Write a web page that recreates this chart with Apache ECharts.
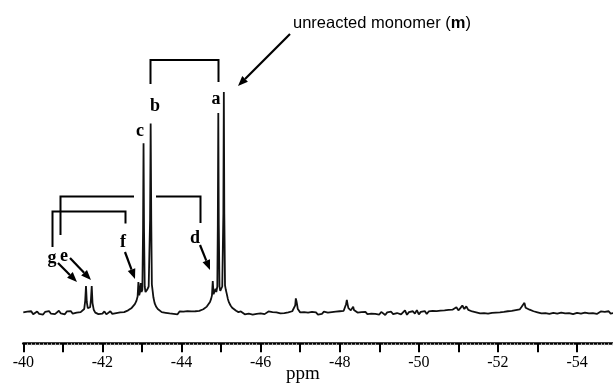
<!DOCTYPE html>
<html>
<head>
<meta charset="utf-8">
<script src="https://cdn.jsdelivr.net/npm/echarts@6/dist/echarts.min.js"></script>
<style>
  html, body { margin: 0; padding: 0; background: #fff; }
  #chart { width: 613px; height: 392px; }
</style>
</head>
<body>
<div id="chart"></div>
<script>
// [ppm, intensity], split by region (a peak = 100)
const baseLeft = [
  [-40.00, 0.3], [-40.05, -0.5], [-40.10, 0.6], [-40.15, -0.2], [-40.20, 0.8], [-40.25, -0.6],
  [-40.30, 0.1], [-40.35, 0.7], [-40.40, -0.4], [-40.45, 0.4], [-40.50, -0.7], [-40.55, 0.5],
  [-40.60, 0.0], [-40.65, 0.9], [-40.70, -0.3], [-40.75, 0.6], [-40.80, -0.5], [-40.85, 0.3],
  [-40.90, 1.0], [-40.95, -0.2], [-41.00, 0.5], [-41.05, -0.6], [-41.10, 0.7], [-41.15, 0.1],
  [-41.20, 0.9], [-41.25, -0.3], [-41.30, 0.6], [-41.35, 0.2], [-41.40, 1.1], [-41.45, 0.4]
];
const peaksGE = [
  [-41.50, 1.0], [-41.54, 1.8], [-41.565, 5.5], [-41.585, 12.2], [-41.605, 5.0], [-41.63, 2.2],
  [-41.66, 1.6], [-41.69, 2.6], [-41.71, 6.0], [-41.73, 12.2], [-41.75, 4.5], [-41.78, 1.5],
  [-41.82, 0.2]
];
const baseGF = [
  [-41.86, 0.6], [-41.90, -0.5], [-41.95, 0.4], [-42.00, -0.3], [-42.05, 0.7], [-42.10, -0.6],
  [-42.15, 0.2], [-42.20, 0.8], [-42.25, -0.4], [-42.30, 0.5], [-42.35, 0.0], [-42.40, 0.9],
  [-42.45, 0.3], [-42.50, 1.0], [-42.55, 0.4], [-42.60, 0.9], [-42.65, 1.2]
];
const peaksFCB = [
  [-42.70, 1.7], [-42.74, 2.3], [-42.78, 3.0], [-42.82, 4.0], [-42.86, 5.5], [-42.89, 7.5],
  [-42.91, 14.0], [-42.93, 8.0], [-42.95, 9.5], [-42.97, 13.5], [-42.99, 9.5], [-43.01, 10.5],
  [-43.028, 38], [-43.04, 76.8], [-43.052, 38], [-43.07, 12], [-43.09, 9.5], [-43.11, 9.0],
  [-43.13, 10.5], [-43.15, 9.8], [-43.17, 12], [-43.205, 42], [-43.22, 85.8], [-43.235, 42],
  [-43.25, 13], [-43.27, 10], [-43.29, 7], [-43.32, 4.5], [-43.36, 2.8], [-43.40, 1.8],
  [-43.45, 1.0], [-43.50, 0.4], [-43.55, 0.8]
];
const baseBD = [
  [-43.60, 0.1], [-43.65, 0.6], [-43.70, -0.2], [-43.75, 0.5], [-43.80, -0.4], [-43.85, 0.3],
  [-43.90, -0.6], [-43.95, 0.7], [-44.00, -0.2], [-44.05, 0.6], [-44.10, 0.1], [-44.15, 0.9],
  [-44.20, 0.2], [-44.25, 0.7], [-44.30, 0.1], [-44.35, 0.8], [-44.40, 0.5], [-44.45, 1.0],
  [-44.50, 1.2], [-44.55, 1.7]
];
const peaksDA = [
  [-44.60, 2.2], [-44.64, 2.9], [-44.68, 3.8], [-44.72, 5.0], [-44.75, 6.5], [-44.77, 8.0],
  [-44.79, 14.5], [-44.81, 8.5], [-44.84, 9.0], [-44.86, 11.0], [-44.88, 9.5], [-44.905, 12],
  [-44.918, 40], [-44.93, 90.5], [-44.942, 40], [-44.96, 12], [-44.98, 10], [-45.00, 9.5],
  [-45.03, 12], [-45.058, 45], [-45.07, 100], [-45.082, 45], [-45.10, 12.5], [-45.12, 10.5],
  [-45.14, 9.0], [-45.17, 6.5], [-45.20, 4.8], [-45.24, 3.4], [-45.28, 2.4], [-45.33, 1.6],
  [-45.38, 1.0], [-45.44, 0.4], [-45.50, 0.7]
];
const baseMid = [
  [-45.55, 0.2], [-45.60, -0.6], [-45.65, 0.3], [-45.70, -0.3], [-45.75, 0.5], [-45.80, -0.7],
  [-45.85, 0.1], [-45.90, -0.4], [-45.95, 0.4], [-46.00, -0.2], [-46.05, 0.6], [-46.10, -0.5],
  [-46.15, 0.2], [-46.20, 0.7], [-46.25, -0.1], [-46.30, 0.4], [-46.35, 0.9], [-46.40, 0.3],
  [-46.45, 0.6], [-46.50, -0.2], [-46.55, 0.5], [-46.60, 0.0], [-46.65, 0.7], [-46.70, 0.3],
  [-46.75, 0.9], [-46.80, 0.8],
  [-46.85, 1.4], [-46.875, 3.5], [-46.89, 6.6], [-46.905, 5.5], [-46.92, 4.0], [-46.94, 1.8],
  [-46.97, 0.9],
  [-47.00, 0.3], [-47.05, -0.5], [-47.10, 0.4], [-47.15, -0.3], [-47.20, 0.2], [-47.25, -0.6],
  [-47.30, 0.5], [-47.35, -0.2], [-47.40, 0.3], [-47.45, -0.7], [-47.50, 0.1], [-47.55, -0.4],
  [-47.60, 0.6], [-47.65, -0.3], [-47.70, 0.2], [-47.75, -0.5], [-47.80, 0.4], [-47.85, 0.0],
  [-47.90, 0.6], [-47.95, 0.3], [-48.00, 0.8], [-48.05, 0.6], [-48.10, 1.0],
  [-48.14, 1.8], [-48.16, 4.0], [-48.18, 5.9], [-48.20, 3.8], [-48.22, 2.2], [-48.25, 1.6],
  [-48.28, 1.2], [-48.31, 1.7], [-48.34, 2.9], [-48.36, 1.4], [-48.40, 0.5]
];
const baseRight = [
  [-48.45, 0.2], [-48.50, -0.6], [-48.55, 0.4], [-48.60, -0.2], [-48.65, 0.5], [-48.70, -0.5],
  [-48.75, 0.3], [-48.80, -0.3], [-48.85, 0.6], [-48.90, -0.4], [-48.95, 0.2], [-49.00, -0.7],
  [-49.05, 0.5], [-49.10, 1.4], [-49.15, -0.9], [-49.20, 0.3], [-49.25, -0.2], [-49.30, 0.6],
  [-49.35, -0.5], [-49.40, 0.4], [-49.45, 0.0], [-49.50, 0.7], [-49.55, -0.6], [-49.60, 0.3],
  [-49.65, 1.2], [-49.70, -0.8], [-49.75, 0.4], [-49.80, 0.1], [-49.85, 0.8], [-49.90, -0.3],
  [-49.95, 1.3], [-50.00, -0.6], [-50.05, 0.5], [-50.10, 0.2], [-50.15, 0.9], [-50.20, -0.4],
  [-50.25, 0.7], [-50.30, 0.1], [-50.35, 1.0], [-50.40, 0.3], [-50.45, 0.9], [-50.50, 0.2],
  [-50.55, 1.1], [-50.60, 0.4], [-50.65, 1.2], [-50.70, 0.5], [-50.75, 1.4], [-50.80, 0.6],
  [-50.85, 1.5], [-50.90, 1.0], [-50.95, 2.6], [-51.00, 1.2], [-51.05, 2.2], [-51.10, 3.4],
  [-51.15, 1.8], [-51.20, 3.0], [-51.25, 1.4], [-51.30, 1.8], [-51.35, 0.7], [-51.40, 1.0],
  [-51.45, 0.3], [-51.50, 0.6], [-51.55, -0.2], [-51.60, 0.4], [-51.65, 0.0], [-51.70, 0.6],
  [-51.75, -0.3], [-51.80, 0.5], [-51.85, 0.1], [-51.90, 0.8], [-51.95, 0.2], [-52.00, 0.7],
  [-52.05, 0.3], [-52.10, 1.1], [-52.15, 0.5], [-52.20, 1.2], [-52.25, 0.8], [-52.30, 1.5],
  [-52.35, 1.0], [-52.40, 1.8], [-52.45, 1.3], [-52.50, 2.2], [-52.55, 1.6], [-52.60, 2.8],
  [-52.64, 2.0], [-52.67, 4.6], [-52.70, 2.4], [-52.75, 3.0], [-52.80, 1.5], [-52.85, 1.8],
  [-52.90, 0.8], [-52.95, 1.1], [-53.00, 0.3], [-53.05, 0.8], [-53.10, -0.2], [-53.15, 0.5],
  [-53.20, 0.0], [-53.25, 0.7], [-53.30, -0.4], [-53.35, 0.4], [-53.40, 0.1], [-53.45, 0.8],
  [-53.50, -0.3], [-53.55, 0.5], [-53.60, 0.2], [-53.65, 0.9], [-53.70, -0.2], [-53.75, 0.4],
  [-53.80, 0.0], [-53.85, 0.6], [-53.90, -0.5], [-53.95, 0.3], [-54.00, 0.1], [-54.05, 0.7],
  [-54.10, -0.3], [-54.15, 0.5], [-54.20, 0.2], [-54.25, 0.8], [-54.30, -0.2], [-54.35, 0.4],
  [-54.40, 0.0], [-54.45, 0.6], [-54.50, -0.4], [-54.55, 0.3], [-54.60, 0.7], [-54.65, -0.1],
  [-54.70, 0.5], [-54.75, 0.2], [-54.80, 0.8], [-54.85, -0.3], [-54.90, 0.4], [-54.95, 0.1],
  [-55.00, 0.5]
];

const tickLabels = [-40, -42, -44, -46, -48, -50, -52, -54];
const axisTitle = 'ppm';

const spectrum = [].concat(baseLeft, peaksGE, baseGF, peaksFCB, baseBD, peaksDA, baseMid, baseRight);

// annotation layout (pixels)
const letters = [
  { t: 'a', x: 216, y: 99 }, { t: 'b', x: 155, y: 106 }, { t: 'c', x: 140, y: 131 },
  { t: 'd', x: 195, y: 238 }, { t: 'e', x: 64, y: 256 }, { t: 'f', x: 123, y: 242 },
  { t: 'g', x: 52, y: 258 }
];
const brackets = [
  [[150.5, 84], [150.5, 60], [218.5, 60], [218.5, 82]],
  [[60.5, 235], [60.5, 196.5], [134, 196.5]],
  [[156, 196.5], [200.5, 196.5], [200.5, 223]],
  [[52.5, 247], [52.5, 211.5], [125.5, 211.5], [125.5, 223.5]]
];
const arrows = [
  [58, 263, 77, 282], [70, 258, 91, 280], [125, 252, 135, 279], [200, 245, 210, 270],
  [290, 34, 238, 86]
];

function arrowShapes(a) {
  const [x1, y1, x2, y2] = a;
  const dx = x2 - x1, dy = y2 - y1, len = Math.hypot(dx, dy);
  const ux = dx / len, uy = dy / len;
  const hl = 10, hw = 4;
  const bx = x2 - ux * hl, by = y2 - uy * hl;
  return [
    { type: 'line', shape: { x1, y1, x2: bx, y2: by }, style: { stroke: '#000', lineWidth: 2.2 } },
    { type: 'polygon', shape: { points: [[x2, y2], [bx - uy * hw, by + ux * hw], [bx + uy * hw, by - ux * hw]] },
      style: { fill: '#000' } }
  ];
}

const graphics = [];
brackets.forEach(p => graphics.push({ type: 'polyline', shape: { points: p }, style: { stroke: '#000', lineWidth: 2, fill: null } }));
arrows.forEach(a => graphics.push(...arrowShapes(a)));
letters.forEach(l => graphics.push({
  type: 'text', x: l.x, y: l.y,
  style: { text: l.t, font: 'bold 18px "Liberation Serif"', fill: '#000', align: 'center', verticalAlign: 'middle' }
}));
graphics.push({
  type: 'text', x: 293, y: 23,
  style: {
    text: '{n|unreacted monomer (}{b|m}{n|)}',
    verticalAlign: 'middle',
    rich: {
      n: { font: '16.5px "Liberation Sans"', fill: '#000' },
      b: { font: 'bold 16.5px "Liberation Sans"', fill: '#000' }
    }
  }
});

const chart = echarts.init(document.getElementById('chart'));
chart.setOption({
  animation: false,
  grid: { left: 23.3, right: -3.6, top: 92, bottom: 48.7, containLabel: false, outerBoundsMode: 'none' },
  xAxis: {
    type: 'value',
    inverse: true,
    min: -55,
    max: -40,
    interval: 1,
    name: axisTitle,
    nameLocation: 'middle',
    nameGap: 21,
    nameMoveOverlap: false,
    nameTextStyle: { fontFamily: 'Liberation Serif', fontSize: 19, color: '#000', padding: [0, 34, 0, 0] },
    axisLine: { onZero: false, lineStyle: { color: '#000', width: 2.5 } },
    axisTick: { length: 9, lineStyle: { color: '#000', width: 2 } },
    minorTick: { show: true, splitNumber: 10, length: 2, lineStyle: { color: '#bbb', width: 1 } },
    splitLine: { show: false },
    axisLabel: {
      margin: 11,
      fontFamily: 'Liberation Serif',
      fontSize: 16,
      color: '#000',
      formatter: v => tickLabels.indexOf(Math.round(v)) >= 0 ? String(Math.round(v)) : ''
    }
  },
  yAxis: { type: 'value', show: false, min: -13.7, max: 100, splitLine: { show: false } },
  series: [{
    type: 'line',
    data: spectrum,
    showSymbol: false,
    clip: false,
    lineStyle: { color: '#111', width: 1.8 }
  }],
  graphic: graphics
});
</script>
</body>
</html>
